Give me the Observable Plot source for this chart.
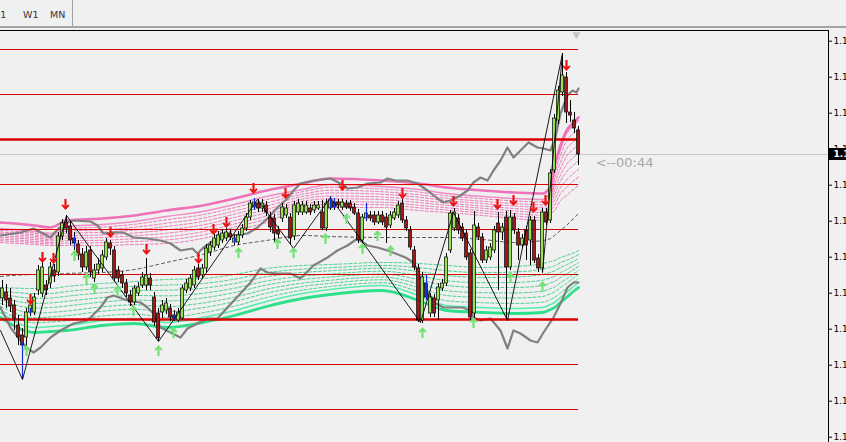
<!DOCTYPE html>
<html><head><meta charset="utf-8">
<script src="https://cdn.jsdelivr.net/npm/d3@7"></script>
<script src="https://cdn.jsdelivr.net/npm/@observablehq/plot@0.6"></script>
<style>
html,body{margin:0;padding:0;background:#f0f0f0;overflow:hidden;width:846px;height:442px;}
#hdr{position:absolute;left:0;top:0;width:846px;height:26px;font:9.5px "DejaVu Sans",sans-serif;color:#333;}
.tab{position:absolute;top:9px;}
#sep{position:absolute;left:72px;top:0;width:1px;height:26px;background:#a0a0a0;}
#g1{position:absolute;left:0;top:26px;width:846px;height:2px;background:#a4a4a4;}
#b1{position:absolute;left:0;top:30px;width:829px;height:1px;background:#000;z-index:2}
#chart{position:absolute;left:0;top:30px;}
</style></head><body>
<div id="hdr"></div>
<div id="g1"></div><div id="b1"></div>
<div id="chart"></div>
<script>
// ---------- data ----------
const tabs = [["D1", -7], ["W1", 23], ["MN", 50]];
const timerLabel = "<--00:44";

const open = [1.1202,1.1208,1.1202,1.1195,1.1175,1.1165,1.1163,1.1188,1.1188,1.1210,
1.1207,1.1215,1.1217,1.1230,1.1228,1.1264,1.1278,1.1274,1.1262,1.1256,
1.1246,1.1233,1.1250,1.1222,1.1230,1.1232,1.1243,1.1257,1.1250,1.1230,
1.1225,1.1217,1.1205,1.1198,1.1207,1.1215,1.1215,1.1222,1.1203,1.1187,
1.1188,1.1190,1.1192,1.1185,1.1180,1.1182,1.1210,1.1212,1.1215,1.1232,
1.1225,1.1232,1.1248,1.1253,1.1255,1.1260,1.1262,1.1267,1.1258,1.1258,
1.1265,1.1272,1.1283,1.1293,1.1297,1.1292,1.1295,1.1283,1.1282,1.1270,
1.1282,1.1285,1.1283,1.1264,1.1288,1.1288,1.1288,1.1292,1.1290,1.1292,
1.1288,1.1272,1.1292,1.1298,1.1298,1.1293,1.1297,1.1297,1.1293,1.1287,
1.1260,1.1282,1.1285,1.1285,1.1278,1.1285,1.1283,1.1275,1.1282,1.1285,
1.1297,1.1280,1.1270,1.1250,1.1232,1.1180,1.1217,1.1187,1.1202,1.1200,
1.1212,1.1217,1.1250,1.1272,1.1282,1.1273,1.1267,1.1247,1.1187,1.1273,
1.1263,1.1240,1.1243,1.1250,1.1277,1.1268,1.1283,1.1233,1.1283,1.1268,
1.1255,1.1270,1.1260,1.1280,1.1242,1.1232,1.1288,1.1280,1.1330,1.1380,
1.1408,1.1423,1.1388,1.1380,1.1370];
const close = [1.1212,1.1200,1.1194,1.1182,1.1163,1.1155,1.1188,1.1195,1.1203,1.1230,
1.1233,1.1210,1.1233,1.1224,1.1264,1.1277,1.1272,1.1260,1.1257,1.1245,
1.1233,1.1248,1.1228,1.1230,1.1236,1.1245,1.1258,1.1252,1.1222,1.1222,
1.1217,1.1207,1.1198,1.1212,1.1213,1.1223,1.1225,1.1215,1.1178,1.1162,
1.1195,1.1197,1.1183,1.1182,1.1188,1.1212,1.1217,1.1222,1.1230,1.1223,
1.1232,1.1252,1.1255,1.1262,1.1265,1.1267,1.1268,1.1263,1.1262,1.1265,
1.1272,1.1283,1.1297,1.1298,1.1292,1.1297,1.1288,1.1273,1.1267,1.1266,
1.1293,1.1292,1.1262,1.1295,1.1297,1.1295,1.1295,1.1288,1.1295,1.1295,
1.1272,1.1297,1.1300,1.1293,1.1295,1.1298,1.1293,1.1292,1.1287,1.1260,
1.1283,1.1287,1.1282,1.1278,1.1285,1.1278,1.1273,1.1285,1.1288,1.1295,
1.1280,1.1272,1.1253,1.1233,1.1180,1.1223,1.1203,1.1203,1.1187,1.1213,
1.1217,1.1243,1.1287,1.1288,1.1270,1.1262,1.1243,1.1183,1.1275,1.1263,
1.1240,1.1250,1.1253,1.1270,1.1268,1.1273,1.1233,1.1283,1.1270,1.1255,
1.1262,1.1255,1.1280,1.1240,1.1232,1.1288,1.1278,1.1327,1.1382,1.1410,
1.1425,1.1388,1.1385,1.1372,1.1346];
const high = [1.1220,1.1216,1.1212,1.1200,1.1185,1.1172,1.1192,1.1200,1.1207,1.1235,
1.1238,1.1220,1.1238,1.1236,1.1268,1.1281,1.1285,1.1279,1.1268,1.1260,
1.1252,1.1254,1.1254,1.1236,1.1242,1.1250,1.1262,1.1260,1.1254,1.1234,
1.1229,1.1221,1.1210,1.1215,1.1218,1.1228,1.1242,1.1227,1.1208,1.1192,
1.1200,1.1202,1.1196,1.1190,1.1192,1.1215,1.1221,1.1226,1.1234,1.1236,
1.1236,1.1256,1.1259,1.1266,1.1269,1.1271,1.1272,1.1271,1.1266,1.1269,
1.1276,1.1287,1.1300,1.1302,1.1301,1.1301,1.1299,1.1288,1.1286,1.1274,
1.1297,1.1296,1.1287,1.1299,1.1301,1.1299,1.1299,1.1296,1.1299,1.1299,
1.1300,1.1301,1.1304,1.1302,1.1301,1.1301,1.1300,1.1300,1.1297,1.1291,
1.1286,1.1297,1.1289,1.1289,1.1289,1.1289,1.1287,1.1289,1.1292,1.1299,
1.1301,1.1284,1.1274,1.1254,1.1236,1.1228,1.1222,1.1207,1.1206,1.1217,
1.1221,1.1247,1.1290,1.1292,1.1286,1.1277,1.1271,1.1251,1.1289,1.1277,
1.1267,1.1254,1.1257,1.1274,1.1288,1.1277,1.1289,1.1290,1.1287,1.1272,
1.1266,1.1274,1.1284,1.1284,1.1246,1.1292,1.1292,1.1331,1.1386,1.1414,
1.1447,1.1428,1.1400,1.1388,1.1374];
const low = [1.1195,1.1192,1.1188,1.1170,1.1155,1.1121,1.1152,1.1184,1.1185,1.1205,
1.1203,1.1205,1.1212,1.1218,1.1224,1.1260,1.1267,1.1255,1.1250,1.1240,
1.1228,1.1230,1.1223,1.1218,1.1226,1.1228,1.1240,1.1245,1.1218,1.1218,
1.1212,1.1203,1.1194,1.1195,1.1204,1.1212,1.1210,1.1210,1.1174,1.1159,
1.1182,1.1186,1.1179,1.1179,1.1178,1.1180,1.1207,1.1209,1.1212,1.1220,
1.1221,1.1228,1.1244,1.1250,1.1252,1.1257,1.1259,1.1260,1.1255,1.1255,
1.1262,1.1269,1.1280,1.1290,1.1288,1.1288,1.1284,1.1268,1.1257,1.1262,
1.1278,1.1282,1.1256,1.1260,1.1285,1.1285,1.1286,1.1285,1.1287,1.1290,
1.1270,1.1269,1.1290,1.1290,1.1292,1.1290,1.1291,1.1289,1.1285,1.1257,
1.1257,1.1279,1.1279,1.1275,1.1276,1.1275,1.1257,1.1272,1.1280,1.1282,
1.1277,1.1269,1.1250,1.1230,1.1178,1.1177,1.1200,1.1183,1.1183,1.1180,
1.1209,1.1214,1.1247,1.1269,1.1266,1.1259,1.1240,1.1180,1.1182,1.1260,
1.1237,1.1237,1.1240,1.1247,1.1210,1.1260,1.1182,1.1230,1.1266,1.1240,
1.1252,1.1240,1.1235,1.1237,1.1228,1.1228,1.1275,1.1277,1.1327,1.1376,
1.1404,1.1377,1.1378,1.1367,1.1335];

// envelope bands (candle index, price)
const bandI      = [-0.5,8,12,16,25,33,41,50,58,66,75,82,95,104,111,120,128,135,137,138,139.5,141,143,144];
const pinkOuter  = [1.1278,1.1275,1.1273,1.1280,1.1282,1.1285,1.1290,1.1295,1.1302,1.1310,1.1317,1.1322,1.1320,1.1317,1.1313,1.1310,1.1308,1.1307,1.1314,1.1335,1.1355,1.1370,1.1379,1.1383];
const pinkSecond = [1.1272,1.1269,1.1267,1.1274,1.1276,1.1279,1.1284,1.1289,1.1296,1.1304,1.1311,1.1316,1.1314,1.1311,1.1307,1.1304,1.1302,1.1301,1.1309,1.1331,1.1351,1.1367,1.1376,1.1380];
const pinkInner  = [1.1258,1.1256,1.1255,1.1255,1.1255,1.1256,1.1257,1.1262,1.1270,1.1278,1.1292,1.1293,1.1293,1.1290,1.1288,1.1285,1.1282,1.1280,1.1287,1.1290,1.1300,1.1305,1.1312,1.1315];
const centerMA   = [1.1224,1.1226,1.1226,1.1227,1.1228,1.1231,1.1238,1.1246,1.1255,1.1260,1.1265,1.1264,1.1263,1.1263,1.1263,1.1261,1.1258,1.1260,1.1262,1.1265,1.1270,1.1275,1.1283,1.1287];
const greenInner = [1.1213,1.1212,1.1212,1.1214,1.1217,1.1219,1.1221,1.1222,1.1226,1.1232,1.1235,1.1236,1.1238,1.1237,1.1235,1.1233,1.1234,1.1237,1.1239,1.1240,1.1243,1.1245,1.1248,1.1250];
const greenSecond= [1.1188,1.1173,1.1174,1.1175,1.1180,1.1182,1.1178,1.1183,1.1190,1.1199,1.1207,1.1211,1.1215,1.1205,1.1195,1.1193,1.1192,1.1193,1.1196,1.1198,1.1203,1.1208,1.1215,1.1218];
const greenOuter = [1.1183,1.1168,1.1169,1.1170,1.1175,1.1177,1.1173,1.1178,1.1185,1.1194,1.1202,1.1206,1.1210,1.1200,1.1190,1.1188,1.1187,1.1188,1.1191,1.1193,1.1198,1.1203,1.1210,1.1213];
const bandFractions = [0.12,0.25,0.37,0.5,0.62,0.75,0.87,1];

// grey channel lines
const greyUpI = [-0.5,4.5,7.75,12,14,16.25,17.75,22,23.75,25.25,27.75,30.25,32.75,36.25,39.5,42,44.5,47.5,48.75,50.25,52.75,55.25,57.75,61.25,63.75,66.25,68.75,71.25,72.75,74.5,77.75,82,84.5,86.25,88.75,91.25,94.5,96.25,98.25,101.25,103.75,106.25,108.75,110.25,112,114.5,116.25,117.75,119.5,121.25,122.75,124.5,126.25,127.75,129.5,131.5,133.75,135.25,137,138.25,139.5,141.25,142.5,143.5,144];
const greyUpP = [1.1265,1.1268,1.1272,1.1263,1.1272,1.1278,1.1280,1.1279,1.1275,1.1267,1.1268,1.1268,1.1263,1.1262,1.1260,1.1257,1.1250,1.1252,1.1247,1.1253,1.1260,1.1265,1.1265,1.1267,1.1273,1.1282,1.1293,1.1302,1.1310,1.1317,1.1320,1.1322,1.1317,1.1312,1.1313,1.1317,1.1318,1.1322,1.1320,1.1320,1.1317,1.1310,1.1302,1.1298,1.1300,1.1305,1.1310,1.1318,1.1323,1.1320,1.1330,1.1340,1.1353,1.1343,1.1350,1.1358,1.1353,1.1352,1.1350,1.1363,1.1387,1.1405,1.1410,1.1408,1.1412];
const greyLoI = [-0.5,2,4.5,6.25,7.75,9.5,12,14.5,17.75,21.25,24.5,26.25,27.75,31.25,34.5,36.25,37.75,39.5,42,44.5,46.25,48.75,51.25,53.75,56.25,59.5,62,64.5,66.25,68.75,72,74.5,77.75,81.25,83.75,86.25,88.75,91.25,93.75,96.25,98.25,100.75,102.75,103.75,105.25,106.5,108.25,110.25,115,117,117.75,119.5,122,124.5,126.25,127.75,129.5,132,133.75,135.25,137.75,139.5,141.25,142.75,144];
const greyLoP = [1.1193,1.1173,1.1160,1.1152,1.1148,1.1153,1.1163,1.1170,1.1177,1.1180,1.1193,1.1203,1.1205,1.1200,1.1198,1.1193,1.1187,1.1173,1.1168,1.1163,1.1172,1.1177,1.1182,1.1182,1.1193,1.1207,1.1218,1.1232,1.1228,1.1227,1.1227,1.1222,1.1235,1.1243,1.1250,1.1255,1.1262,1.1255,1.1253,1.1250,1.1247,1.1243,1.1238,1.1230,1.1217,1.1207,1.1197,1.1193,1.1193,1.1190,1.1183,1.1180,1.1182,1.1170,1.1152,1.1170,1.1167,1.1160,1.1158,1.1168,1.1183,1.1197,1.1213,1.1218,1.1218];

// zigzag
const zigI = [-0.5,5,16,39,63.75,72.75,82,104.5,112.75,126.25,140];
const zigP = [1.1170,1.1121,1.1285,1.1159,1.1301,1.1252,1.1303,1.1178,1.1288,1.1180,1.1447];
const zig2I = [135,140];
const zig2P = [1.1228,1.1447];

// horizontal levels
const levels = [1.1451,1.1406,1.1361,1.1316,1.1271,1.1226,1.1181,1.1136,1.1091];
const heavyLevels = [1.1361,1.1181];

// fractal arrows
const downI = [7,10,12.75,15.75,27,36,49,52.75,56,62.75,70.75,85,100,112.75,123.75,127.75,132.75,135.75,141];
const downP = [1.1201,1.1243,1.1242,1.1296,1.1268,1.1251,1.1242,1.1271,1.1278,1.1312,1.1307,1.1315,1.1307,1.1299,1.1296,1.1300,1.1293,1.1300,1.1435];
const upI = [6,18,21,23,28.75,32.75,39,42.75,59,68.75,72.75,80.75,86,90,93.75,97,105,117.75,127,135];
const upP = [1.1150,1.1245,1.1222,1.1212,1.1210,1.1190,1.1150,1.1168,1.1248,1.1257,1.1248,1.1262,1.1282,1.1252,1.1265,1.1250,1.1168,1.1178,1.1223,1.1214];

// blue markers
const blueI  = [5,7,18,43,58,63,82,83,91,106];
const blueHi = [1.1158,1.1192,1.1264,1.1185,1.1263,1.1302,1.1304,1.1302,1.1297,1.1225];
const blueLo = [1.1121,1.1187,1.1253,1.1180,1.1257,1.1290,1.1292,1.1292,1.1280,1.1200];

// price axis ticks
const yTicks = [1.14593,1.14233,1.13873,1.13513,1.13153,1.12793,1.12433,1.12073,1.11713,1.11353,1.10993,1.10633];
const shiftMarker = {i: 143.5, p: 1.1466};
const timerI = 148.3;

// ---------- build ----------
const hdr = document.getElementById("hdr");
for (const [t, left] of tabs) { const s = document.createElement("span"); s.className = "tab"; s.style.left = left + "px"; s.textContent = t; hdr.appendChild(s); }
const sep = document.createElement("div"); sep.id = "sep"; hdr.appendChild(sep);

const fmt = d3.format(".5f");
const candles = open.map((o, i) => ({i, o, h: high[i], l: low[i], c: close[i]}));
const lastClose = close[close.length - 1];
const lastI = close.length - 1;
const ser = arr => bandI.map((x, j) => ({x, y: arr[j]}));
const mix = (a, b) => bandFractions.flatMap((f, k) => bandI.map((x, j) => ({k, x, y: a[j] + (b[j] - a[j]) * f})));
const pinkDash = mix(pinkSecond, pinkInner);
const greenDash = mix(greenSecond, greenInner);
const greyUp = greyUpI.map((x, j) => ({x, y: greyUpP[j]}));
const greyLo = greyLoI.map((x, j) => ({x, y: greyLoP[j]}));
const zig = zigI.map((x, j) => ({x, y: zigP[j]}));
const zig2 = zig2I.map((x, j) => ({x, y: zig2P[j]}));
const downs = downI.map((x, j) => ({x, y: downP[j]}));
const ups = upI.map((x, j) => ({x, y: upP[j]}));
const blues = blueI.map((x, j) => ({x, hi: blueHi[j], lo: blueLo[j]}));

const arrowPts = [[-0.2,-1],[0.2,-1],[0.2,0.25],[0.52,-0.05],[0.74,0.17],[0,1],[-0.74,0.17],[-0.52,-0.05],[-0.2,0.25]];
const mkArrow = dir => ({draw(ctx, size) {
  const r = Math.sqrt(size / Math.PI);
  ctx.moveTo(arrowPts[0][0] * r, dir * arrowPts[0][1] * r);
  for (const [a, b] of arrowPts.slice(1)) ctx.lineTo(a * r, dir * b * r);
  ctx.closePath();
}});
const arrowDown = mkArrow(1), arrowUp = mkArrow(-1);

const chart = Plot.plot({
  width: 846, height: 412,
  marginTop: 0, marginBottom: 0, marginLeft: 0, marginRight: 18,
  style: {background: "#f0f0f0", fontFamily: "DejaVu Sans", fontSize: "9px", color: "#000"},
  x: {type: "linear", domain: [-0.5, 206.5], axis: null},
  y: {type: "linear", domain: [1.1058, 1.1470]},
  marks: [
    // current price line
    Plot.ruleY([lastClose], {stroke: "#c8c8c8", strokeWidth: 1}),
    // pink envelopes
    Plot.line(pinkDash, {x: "x", y: "y", z: "k", stroke: "#ec68b0", strokeWidth: 0.9, strokeDasharray: "3,2", curve: "monotone-x"}),
    Plot.line(ser(pinkSecond), {x: "x", y: "y", stroke: "#f08cc6", strokeWidth: 1.5, curve: "monotone-x"}),
    Plot.line(ser(pinkOuter), {x: "x", y: "y", stroke: "#ef72b8", strokeWidth: 2.6, curve: "monotone-x"}),
    // green envelopes
    Plot.line(greenDash, {x: "x", y: "y", z: "k", stroke: "#36cc80", strokeWidth: 0.9, strokeDasharray: "3,2", curve: "monotone-x"}),
    Plot.line(ser(greenSecond), {x: "x", y: "y", stroke: "#55eeaa", strokeWidth: 1.5, curve: "monotone-x"}),
    Plot.line(ser(greenOuter), {x: "x", y: "y", stroke: "#2fe08a", strokeWidth: 2.8, curve: "monotone-x"}),
    // center MA
    Plot.line(ser(centerMA), {x: "x", y: "y", stroke: "#444", strokeWidth: 0.9, strokeDasharray: "3,3", curve: "monotone-x"}),
    // grey channel
    Plot.line(greyUp, {x: "x", y: "y", stroke: "#808080", strokeWidth: 2.2}),
    Plot.line(greyLo, {x: "x", y: "y", stroke: "#808080", strokeWidth: 2.2}),
    // horizontal levels
    Plot.ruleY(levels, {y: d => d, x1: -0.5, x2: lastI, stroke: "#dd0000", strokeWidth: d => heavyLevels.includes(d) ? 2.6 : 1.2}),
    // candles
    Plot.ruleX(candles, {x: "i", y1: "l", y2: "h", stroke: "#000", strokeWidth: 1}),
    Plot.rect(candles, {x1: d => d.i - 0.34, x2: d => d.i + 0.34, y1: "o", y2: "c",
      fill: d => d.c >= d.o ? "#98e050" : "#a01818", stroke: "#000", strokeWidth: 0.7}),
    Plot.ruleX(blues, {x: "x", y1: "lo", y2: "hi", stroke: "#1030e0", strokeWidth: 1.2}),
    // zigzag
    Plot.line(zig, {x: "x", y: "y", stroke: "#000", strokeWidth: 0.9}),
    Plot.line(zig2, {x: "x", y: "y", stroke: "#000", strokeWidth: 0.9}),
    // fractal arrows
    Plot.dot(downs, {x: "x", y: "y", symbol: arrowDown, r: 5.5, fill: "#ee1111", stroke: null}),
    Plot.dot(ups, {x: "x", y: "y", symbol: arrowUp, r: 5.5, fill: "#74e274", stroke: null}),
    // shift marker
    Plot.dot([shiftMarker], {x: "i", y: "p", symbol: "triangle", rotate: 180, r: 3, fill: "#c4c4c4", stroke: null}),
    // timer text
    Plot.text([lastClose], {x: () => timerI, y: d => d, text: () => timerLabel, dy: 8, textAnchor: "start", fill: "#a8a8a8", fontSize: 13, fontFamily: "DejaVu Sans"}),
    // price axis
    Plot.ruleX([206.5], {stroke: "#000", strokeWidth: 1}),
    Plot.axisY(yTicks, {anchor: "right", tickSize: 3, tickPadding: 2, tickFormat: fmt, fontSize: 9, fill: "#000", stroke: "#000"}),
    // current price label
    Plot.rect([lastClose], {x1: () => 206.7, x2: () => 212, y1: d => d - 0.0006, y2: d => d + 0.0006, fill: "#000"}),
    Plot.text([lastClose], {x: () => 207.75, y: d => d, text: d => fmt(d), textAnchor: "start", fill: "#fff", fontSize: 9, fontWeight: "bold"})
  ]
});
document.getElementById("chart").appendChild(chart);
</script>
</body></html>
